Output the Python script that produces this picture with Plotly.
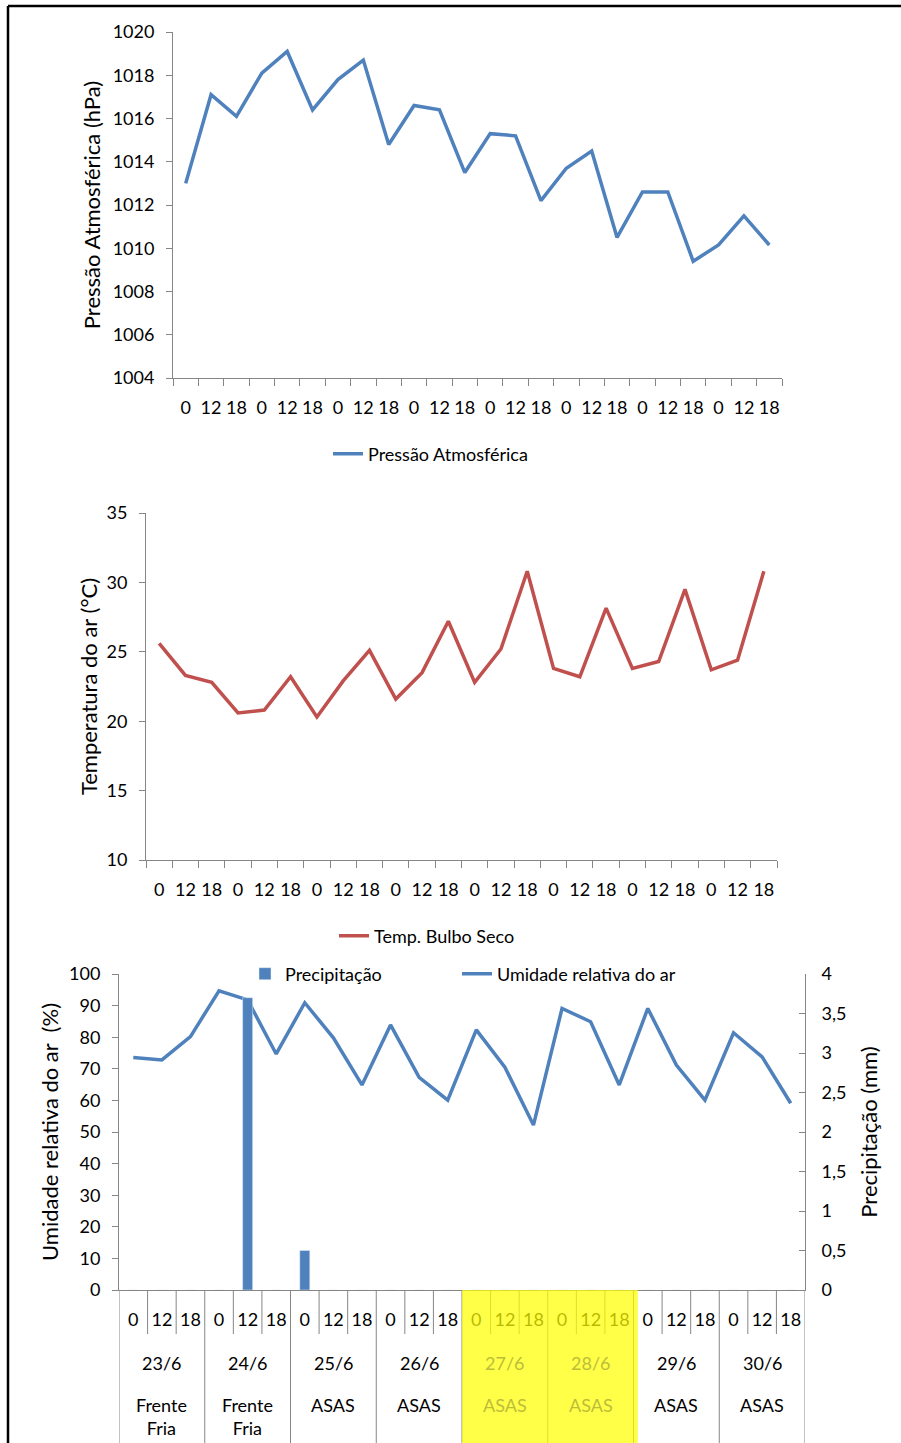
import plotly.graph_objects as go

# ---- data ----
days = ['23/6', '24/6', '25/6', '26/6', '27/6', '28/6', '29/6', '30/6']
hours = ['0', '12', '18']
regimes = ['Frente Fria', 'Frente Fria', 'ASAS', 'ASAS', 'ASAS', 'ASAS', 'ASAS', 'ASAS']
highlight_days = ['27/6', '28/6']

pressure = [1013.0, 1017.1, 1016.1, 1018.1, 1019.1, 1016.4, 1017.8, 1018.7,
            1014.8, 1016.6, 1016.4, 1013.5, 1015.3, 1015.2, 1012.2, 1013.7,
            1014.5, 1010.5, 1012.6, 1012.6, 1009.4, 1010.15, 1011.5, 1010.15]

temperature = [25.6, 23.3, 22.8, 20.6, 20.8, 23.2, 20.3, 22.9,
               25.1, 21.6, 23.5, 27.2, 22.8, 25.2, 30.8, 23.8,
               23.2, 28.15, 23.8, 24.3, 29.5, 23.7, 24.4, 30.8]

humidity = [73.6, 72.8, 80.2, 94.7, 91.8, 74.7, 90.9, 79.8,
            64.9, 83.9, 67.3, 60.1, 82.3, 70.5, 52.2, 89.1,
            84.9, 64.9, 89.1, 71.2, 60.1, 81.4, 73.8, 59.1]

precip = [0, 0, 0, 0, 3.7, 0, 0.5, 0,
          0, 0, 0, 0, 0, 0, 0, 0,
          0, 0, 0, 0, 0, 0, 0, 0]

# ---- layout helpers (pixel -> paper) ----
W, H = 901, 1443
def px(x):
    return x / W
def py(y):
    return 1 - y / H

BLUE = '#4F81BD'
RED = '#C0504D'
AXC = '#868686'
FONT = 'Lato'
FS = 18

keys = [d + ' ' + h for d in days for h in hours]
hour_text = [h for d in days for h in hours]

fig = go.Figure()

fig.add_trace(go.Scatter(x=keys, y=pressure, mode='lines', name='Pressão Atmosférica',
                         line=dict(color=BLUE, width=3.5), xaxis='x', yaxis='y',
                         legend='legend', showlegend=True))
fig.add_trace(go.Scatter(x=keys, y=temperature, mode='lines', name='Temp. Bulbo Seco',
                         line=dict(color=RED, width=3.5), xaxis='x2', yaxis='y2',
                         legend='legend2', showlegend=True))
fig.add_trace(go.Bar(x=keys, y=precip, name='Precipitação', marker_color=BLUE,
                     width=0.35, xaxis='x3', yaxis='y4', legend='legend3',
                     showlegend=True))
fig.add_trace(go.Scatter(x=keys, y=humidity, mode='lines', name='Umidade relativa do ar',
                         line=dict(color=BLUE, width=3.5), xaxis='x3', yaxis='y3',
                         legend='legend4', showlegend=True))

def xcat(domain, anchor, ticklen, standoff):
    return dict(domain=domain, anchor=anchor, type='category', categoryorder='array',
                categoryarray=keys, tickvals=keys, ticktext=hour_text, tickson='boundaries',
                ticks='outside' if ticklen else '', ticklen=ticklen, tickcolor=AXC,
                showline=True, linecolor=AXC, linewidth=1, showgrid=False, tickangle=0,
                ticklabelstandoff=standoff, range=[-0.5, 23.5], fixedrange=True,
                automargin=False)

def yax(domain, anchor, rng, dtick, title, standoff):
    return dict(domain=domain, anchor=anchor, range=rng, dtick=dtick,
                showline=True, linecolor=AXC, linewidth=1, ticks='outside', ticklen=6,
                tickcolor=AXC, showgrid=False, zeroline=False, automargin=False,
                title=dict(text=title, standoff=standoff), ticklabelstandoff=8)

def leg(x, y):
    return dict(x=px(x), y=py(y), xanchor='left', yanchor='middle',
                bgcolor='rgba(0,0,0,0)', font=dict(size=FS))

fig.update_layout(
    width=W, height=H, autosize=False,
    margin=dict(l=0, r=0, t=0, b=0, autoexpand=False),
    paper_bgcolor='white', plot_bgcolor='rgba(0,0,0,0)',
    font=dict(family=FONT, size=FS, color='black'),
    separators=', ',
    showlegend=True,
    xaxis=xcat([px(173), px(782)], 'y', 7, 13),
    yaxis=yax([py(378), py(32)], 'x', [1004, 1020], 2, 'Pressão Atmosférica (hPa)', 5),
    xaxis2=xcat([px(146), px(777)], 'y2', 7, 13),
    yaxis2=yax([py(860), py(513)], 'x2', [10, 35], 5, 'Temperatura do ar (°C)', 2),
    xaxis3=xcat([px(119), px(805)], 'y3', 0, 13),
    yaxis3=yax([py(1290), py(974)], 'x3', [0, 100], 10,
               'Umidade relativa do ar\u00a0\u00a0(%)', 4),
    yaxis4=dict(overlaying='y3', anchor='x3', side='right', range=[0, 4], dtick=0.5,
                showline=True, linecolor=AXC, linewidth=1, ticks='inside', ticklen=6,
                tickcolor=AXC, showgrid=False, zeroline=False, automargin=False,
                title=dict(text='Precipitação (mm)', standoff=16), ticklabelstandoff=12),
    legend=leg(328, 454),
    legend2=leg(334, 936),
    legend3=leg(245, 974),
    legend4=leg(457, 974),
)

shapes = []
# hour separators (short) and day separators (full height) of the category table
for b in range(len(keys) + 1):
    xb = b - 0.5
    full = b % 3 == 0
    shapes.append(dict(type='line', xref='x3', yref='paper', x0=xb, x1=xb,
                       y0=py(1290), y1=0 if full else py(1334),
                       line=dict(color=AXC, width=1), layer='below'))

# highlighted days (27/6, 28/6)
i0 = days.index(highlight_days[0]) * 3 - 0.5
i1 = (days.index(highlight_days[-1]) + 1) * 3 - 0.35
shapes.append(dict(type='rect', xref='x3', yref='paper', x0=i0, x1=i1,
                   y0=0, y1=py(1290), fillcolor='#FFFF00', opacity=0.72,
                   line=dict(width=0), layer='above'))

# outer frame
shapes.append(dict(type='line', xref='paper', yref='paper', x0=px(8), x1=px(8),
                   y0=0, y1=py(6), line=dict(color='black', width=2.5)))
shapes.append(dict(type='line', xref='paper', yref='paper', x0=px(8), x1=1,
                   y0=py(6), y1=py(6), line=dict(color='black', width=2.5)))
fig.update_layout(shapes=shapes)

annotations = []
for k, d in enumerate(days):
    col = '#BDBD3A' if d in highlight_days else 'black'
    annotations.append(dict(x=k * 3 + 1, y=py(1363), xref='x3', yref='paper',
                            text=d, showarrow=False, font=dict(color=col, size=FS),
                            xanchor='center', yanchor='middle'))
    annotations.append(dict(x=k * 3 + 1, y=py(1392), xref='x3', yref='paper',
                            text=regimes[k].replace(' ', '<br>'), showarrow=False,
                            font=dict(color=col, size=FS), xanchor='center',
                            yanchor='top'))
fig.update_layout(annotations=annotations)

# drop the default body margin so the figure sits at the top-left corner
page_fix = ("document.documentElement.style.margin='0';"
            "document.body.style.margin='0';"
            "document.documentElement.style.overflow='hidden';")

fig.write_html("out.html", post_script=page_fix, config={'displayModeBar': False})
